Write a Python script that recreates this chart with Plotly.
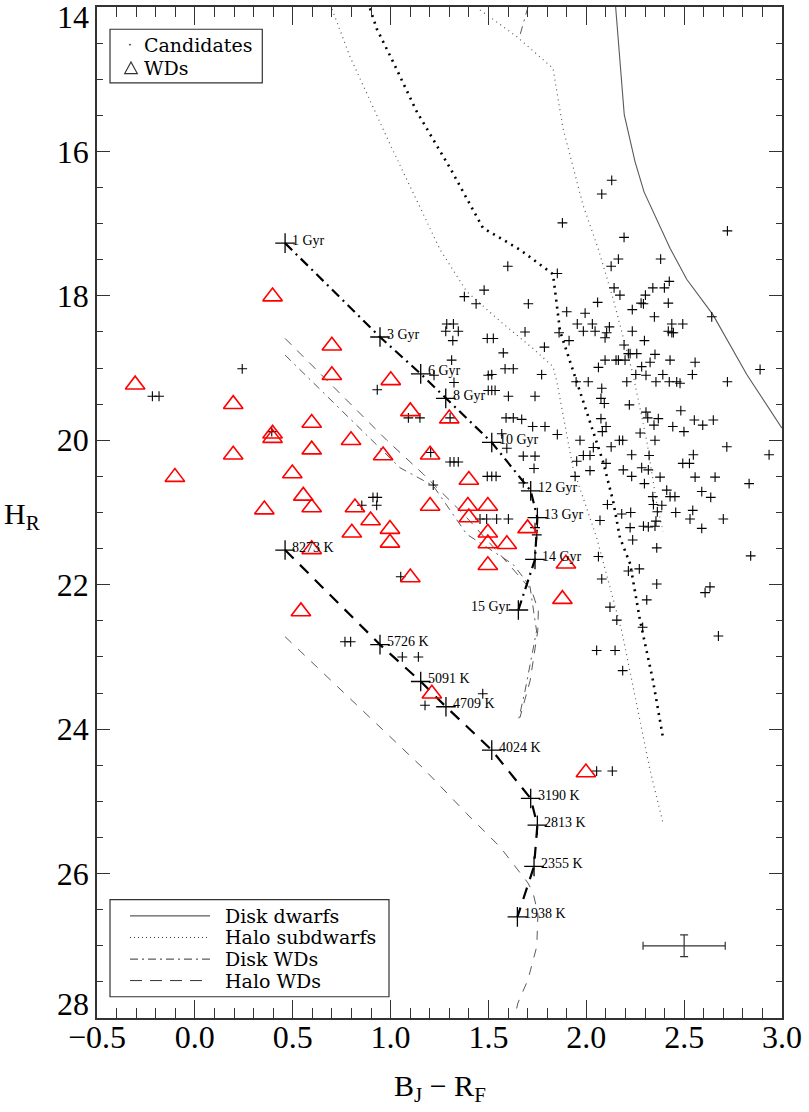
import plotly.graph_objects as go

# ---------------- data ----------------
cand_x = [1.599, 1.852, 1.478, 1.377, 1.437, 1.704, 1.900, 1.287, 1.321, 1.282, 1.346, 1.318, 1.494, 1.525,
          1.687, 1.861, 1.912, 1.786, 1.576, 1.312, 1.585, 1.627, 1.772, 1.499, 1.517, 1.222, 1.324, 1.499,
          1.517, 1.534, 1.602, 1.738, 1.091, 1.150, 1.304, 1.590, 1.627, 1.670, 1.726, 1.789, 1.852, 1.568,
          1.594, 1.678, 1.738, 1.733, 1.304, 1.324, 1.346, 1.205, 1.494, 1.517, 1.539, 1.678, 1.218, 0.853,
          0.910, 0.932, 0.929, 1.457, 1.491, 1.542, 1.602, 1.747, 1.738, 1.951, 1.968, 2.019, 1.985, 2.019,
          1.943, 2.036, 2.108, 2.070, 2.181, 2.227, 2.224, 2.292, 2.317, 2.351, 2.193, 2.215, 2.224, 2.258,
          2.351, 2.096, 2.152, 2.164, 2.198, 2.062, 2.283, 2.326, 2.428, 2.556, 2.888, 2.253, 2.305, 2.391,
          2.542, 1.948, 2.010, 2.207, 2.356, 2.424, 2.462, 2.479, 2.721, 2.079, 2.075, 2.092, 2.220, 2.483,
          2.305, 2.314, 2.368, 2.552, 2.595, 2.649, 2.075, 2.346, 2.442, 2.499, 2.101, 2.082, 2.275, 2.169,
          2.186, 2.351, 2.127, 2.718, 2.934, 2.232, 2.321, 2.547, 2.101, 2.493, 2.527, 2.189, 2.283, 2.317,
          2.232, 2.377, 2.556, 2.658, 2.832, 2.297, 2.411, 2.590, 2.340, 2.428, 2.453, 2.636, 2.343, 2.386,
          2.544, 2.363, 2.457, 2.530, 2.700, 2.356, 2.590, 2.130, 2.079, 1.878, 2.721, 2.193, 2.164, 2.380,
          2.127, 2.424, 2.142, 2.340, 2.399, 2.172, 2.302, 2.058, 2.280, 2.292, 2.419, 2.235, 1.994, 2.348,
          2.641, 1.954, 2.031, 2.118, 2.437, 2.493, 1.985, 2.045, 2.104, 2.235, 2.419, 2.437, 2.445, 2.096,
          2.297, 2.237, 2.360, 2.840, 2.062, 2.215, 2.271, 2.079, 2.360, 2.632, 2.607, 2.309, 2.121, 2.156,
          2.288, 2.675, 2.053, 2.147, 2.186, 1.471, 1.176, 0.242, -0.217, -0.183, 0.393, 0.932, 0.767, 0.796,
          1.060, 1.142, 1.052, 2.053, 2.133]
cand_y = [17.59, 17.69, 17.92, 18.01, 18.11, 18.11, 18.22, 18.39, 18.39, 18.49, 18.49, 18.62, 18.59, 18.59,
          18.50, 18.51, 18.62, 18.71, 18.79, 18.89, 19.01, 19.01, 19.09, 19.10, 19.09, 19.10, 19.20, 19.31,
          19.31, 19.31, 19.39, 19.39, 19.69, 19.69, 19.69, 19.69, 19.69, 19.71, 19.81, 19.81, 19.92, 19.91,
          20.11, 20.22, 20.22, 20.39, 20.30, 20.30, 20.30, 20.17, 20.50, 20.50, 20.50, 20.59, 20.62, 20.90,
          20.79, 20.79, 20.90, 21.09, 21.09, 21.09, 21.09, 21.31, 21.21, 20.29, 20.00, 20.42, 20.21, 20.21,
          20.50, 20.10, 20.89, 21.11, 21.02, 21.00, 21.21, 21.19, 21.20, 21.19, 18.68, 18.80, 18.80, 18.80,
          18.81, 18.89, 18.89, 18.89, 18.89, 18.99, 18.98, 18.92, 18.89, 18.92, 19.02, 19.09, 19.10, 19.09,
          19.09, 19.19, 19.19, 19.19, 19.19, 19.19, 19.19, 19.21, 19.19, 19.28, 19.42, 19.49, 19.51, 19.59,
          19.61, 19.69, 19.70, 19.72, 19.79, 19.72, 19.70, 19.79, 19.81, 19.88, 19.81, 19.88, 19.90, 20.00,
          20.00, 20.00, 20.09, 20.09, 20.20, 20.20, 20.21, 20.20, 20.32, 20.32, 20.32, 20.41, 20.38, 20.41,
          20.50, 20.51, 20.51, 20.51, 20.60, 20.60, 20.69, 20.71, 20.78, 20.78, 20.78, 20.79, 20.89, 20.90,
          20.97, 20.99, 21.00, 21.09, 21.09, 21.12, 21.22, 16.40, 16.59, 16.99, 17.10, 17.19, 17.49, 17.49,
          17.59, 17.80, 17.89, 17.89, 17.89, 17.99, 17.99, 18.09, 18.10, 18.11, 18.10, 18.19, 18.24, 18.29,
          18.29, 18.39, 18.39, 18.43, 18.39, 18.39, 18.49, 18.49, 18.51, 18.49, 18.49, 18.51, 18.51, 18.58,
          18.62, 21.38, 21.49, 21.60, 21.61, 21.81, 21.78, 21.92, 21.99, 22.03, 22.11, 22.21, 22.31, 22.49,
          22.59, 22.71, 22.91, 22.91, 23.19, 23.51, 23.67, 19.01, 19.39, 19.39, 19.88, 19.30, 22.79, 22.79,
          23.00, 23.00, 21.89, 24.58, 24.58]

wd_x = [0.397, 0.700, 0.700, -0.305, 0.196, 0.597, 0.397, 0.397, 0.798, 0.597, 0.196, 0.962, -0.102,
        0.498, 0.554, 0.597, 0.355, 0.818, 0.898, 0.802, 1.001, 1.101, 1.300, 1.202, 1.400, 1.202, 1.395,
        1.497, 1.400, 1.700, 0.997, 1.497, 1.497, 1.594, 1.497, 1.896, 1.101, 1.878, 1.211, 0.597, 0.542,
        0.997, 1.998]
wd_y = [18.01, 18.69, 19.10, 19.23, 19.50, 19.76, 19.91, 19.97, 20.00, 20.13, 20.20, 20.21, 20.51,
        20.46, 20.77, 20.93, 20.96, 20.93, 21.11, 21.28, 19.17, 19.60, 19.70, 20.20, 20.55, 20.91, 20.91,
        20.91, 21.07, 21.22, 21.23, 21.28, 21.43, 21.44, 21.73, 21.71, 21.90, 22.20, 23.51, 21.51, 22.37,
        21.42, 24.60]

# Disk dwarfs sequence
dd_x = [2.150, 2.194, 2.249, 2.295, 2.428, 2.513, 2.647, 2.820, 2.999]
dd_y = [14.00, 15.49, 16.14, 16.56, 17.34, 17.77, 18.26, 19.09, 19.83]

# Halo subdwarf sequences
hsa_x = [0.701, 0.793, 0.992, 1.253, 1.389, 1.559, 1.728, 1.830, 1.849, 1.932, 2.053, 2.181, 2.326, 2.392]
hsa_y = [14.03, 14.69, 15.87, 17.36, 17.94, 18.35, 18.73, 18.98, 19.18, 20.38, 21.35, 22.64, 24.57, 25.30]
hsb_x = [1.457, 1.645, 1.830, 1.881, 1.983, 2.060, 2.137, 2.239, 2.309, 2.360, 2.392]
hsb_y = [14.04, 14.41, 14.85, 15.68, 16.74, 17.34, 18.04, 19.09, 20.01, 20.88, 21.26]
hsc_x = [0.895, 0.929, 1.013, 1.134, 1.304, 1.472, 1.661, 1.830, 1.866, 1.951, 2.019, 2.085, 2.137,
         2.172, 2.224, 2.275, 2.341, 2.392]
hsc_y = [14.02, 14.30, 14.76, 15.45, 16.23, 17.06, 17.36, 17.70, 18.49, 19.18, 19.74, 20.29, 20.84,
         21.35, 21.71, 22.50, 23.33, 24.12]

# Disk WD cooling track (ages)
dwd_x = [0.461, 0.946, 1.154, 1.282, 1.517, 1.716, 1.750, 1.738, 1.653]
dwd_y = [17.27, 18.57, 19.08, 19.42, 20.03, 20.70, 21.07, 21.65, 22.35]
dwd_labels = ["1 Gyr", "3 Gyr", "6 Gyr", "8 Gyr", "10 Gyr", "12 Gyr", "13 Gyr", "14 Gyr", "15 Gyr"]

# Halo WD cooling track (temperatures)
hwd_x = [0.461, 0.946, 1.154, 1.283, 1.517, 1.716, 1.750, 1.733, 1.648]
hwd_y = [21.52, 22.83, 23.34, 23.69, 24.29, 24.96, 25.33, 25.90, 26.60]
hwd_labels = ["8273 K", "5726 K", "5091 K", "4709 K", "4024 K", "3190 K", "2813 K", "2355 K", "1938 K"]

# Other WD model curves (thin)
wd1_x = [0.461, 0.981, 1.168, 1.372, 1.559, 1.721, 1.755, 1.752, 1.713, 1.661]
wd1_y = [18.59, 20.00, 20.47, 21.02, 21.58, 22.08, 22.36, 22.64, 23.33, 23.84]
wd2_x = [0.461, 1.048, 1.218, 1.389, 1.627, 1.712, 1.746, 1.687, 1.653]
wd2_y = [18.82, 20.38, 20.63, 21.30, 21.72, 22.02, 22.64, 23.47, 23.88]
wd3_x = [0.461, 1.166, 1.389, 1.559, 1.702, 1.728, 1.753, 1.747, 1.702, 1.651, 1.636]
wd3_y = [22.72, 24.54, 25.17, 25.63, 26.13, 26.27, 26.55, 27.01, 27.47, 27.79, 27.96]
wd4_x = [1.702, 1.656]
wd4_y = [14.00, 14.44]

# Typical error bar
err_x, err_y = [2.50], [27.00]
err_dx, err_dy = [0.21], [0.15]

# axis ticks
y_tickvals = [14, 16, 18, 20, 22, 24, 26, 28]
y_ticktext = ["", "16", "18", "20", "22", "24", "26", ""]
y_end_labels = [("14", 14), ("28", 28)]

# ---------------- figure ----------------
W, H = 809, 1112
ML, MR, MT, MB = 97, 27, 5, 94
PW, PH = W - ML - MR, H - MT - MB

def px(xp):
    return (xp - ML) / PW

def py(yp):
    return (H - MB - yp) / PH

GRAY = "#5a5a5a"
fig = go.Figure()

def line(x, y, color, width, dash):
    fig.add_trace(go.Scatter(x=x, y=y, mode="lines", line=dict(color=color, width=width, dash=dash),
                             hoverinfo="skip"))

line(dd_x, dd_y, GRAY, 1.1, "solid")
line(hsa_x, hsa_y, GRAY, 1.2, "1px,4px")
line(hsb_x, hsb_y, GRAY, 1.2, "1px,4px")
line(hsc_x, hsc_y, "black", 2.6, "2px,5px")
line(wd1_x, wd1_y, GRAY, 1.0, "9px,8px")
line(wd2_x, wd2_y, GRAY, 1.0, "8px,5px,2px,5px")
line(wd3_x, wd3_y, GRAY, 1.0, "9px,9px")
line(wd4_x, wd4_y, GRAY, 1.0, "8px,5px,2px,5px")
line(dwd_x, dwd_y, "black", 2.2, "10px,5px,2px,5px")
line(hwd_x, hwd_y, "black", 2.2, "12px,9px")

fig.add_trace(go.Scatter(x=dwd_x + hwd_x, y=dwd_y + hwd_y, mode="markers",
                         marker=dict(symbol="cross-thin", size=14, line=dict(color="black", width=1.3)),
                         hoverinfo="skip"))

fig.add_trace(go.Scatter(x=cand_x, y=cand_y, mode="markers",
                         marker=dict(symbol="cross-thin", size=7, line=dict(color="black", width=1.1)),
                         hoverinfo="skip"))

fig.add_trace(go.Scatter(x=wd_x, y=wd_y, mode="markers",
                         marker=dict(symbol="triangle-up-open", size=17, color="red",
                                     line=dict(color="red", width=1.6)),
                         hoverinfo="skip"))

fig.add_trace(go.Scatter(x=err_x, y=err_y, mode="markers", marker=dict(size=1, color="rgba(0,0,0,0)"),
                         error_x=dict(type="data", array=err_dx, width=4, thickness=1.2, color="#333"),
                         error_y=dict(type="data", array=err_dy, width=4, thickness=1.2, color="#333"),
                         hoverinfo="skip"))

LBL = dict(family="Liberation Serif", size=14, color="black")
annotations = []
for x, y, t in zip(dwd_x, dwd_y, dwd_labels):
    if t == "15 Gyr":
        annotations.append(dict(x=x, y=y, text=t, showarrow=False, xanchor="right", yanchor="middle",
                                xshift=-5, yshift=3, font=LBL))
    else:
        annotations.append(dict(x=x, y=y, text=t, showarrow=False, xanchor="left", yanchor="middle",
                                xshift=5, yshift=3, font=LBL))
for x, y, t in zip(hwd_x, hwd_y, hwd_labels):
    annotations.append(dict(x=x, y=y, text=t, showarrow=False, xanchor="left", yanchor="middle",
                            xshift=5, yshift=3, font=LBL))

LEG = dict(family="DejaVu Serif", size=19, color="black")
# legend 1
annotations.append(dict(xref="paper", yref="paper", x=px(142), y=py(43), text="Candidates", showarrow=False,
                        xanchor="left", yanchor="middle", font=LEG))
annotations.append(dict(xref="paper", yref="paper", x=px(142), y=py(66), text="WDs", showarrow=False,
                        xanchor="left", yanchor="middle", font=LEG))
# legend 2
leg2_rows = [("Disk dwarfs", "solid", 915.7), ("Halo subdwarfs", "1px,3px", 937.3),
             ("Disk WDs", "8px,4px,2px,4px", 959.0), ("Halo WDs", "12px,8px", 980.5)]
shapes = []
for txt, dash, yy in leg2_rows:
    annotations.append(dict(xref="paper", yref="paper", x=px(223), y=py(yy), text=txt, showarrow=False,
                            xanchor="left", yanchor="middle", font=LEG))
    shapes.append(dict(type="line", xref="paper", yref="paper", x0=px(130), x1=px(210), y0=py(yy), y1=py(yy),
                       line=dict(color="#333", width=1, dash=dash)))

shapes.append(dict(type="rect", xref="paper", yref="paper", x0=px(110), x1=px(262.3), y0=py(27.3), y1=py(81),
                   line=dict(color="#333", width=1.2), fillcolor="white", layer="above"))
shapes.append(dict(type="rect", xref="paper", yref="paper", x0=px(110), x1=px(389), y0=py(899.3), y1=py(996.7),
                   line=dict(color="#333", width=1.2), fillcolor="rgba(0,0,0,0)", layer="above"))
shapes.append(dict(type="circle", xref="paper", yref="paper", x0=px(129.3), x1=px(130.7), y0=py(42), y1=py(43.4),
                   line=dict(color="#333", width=0.5), fillcolor="#333"))
tri = "M {} {} L {} {} L {} {} Z".format(px(124.7), py(71.7), px(137.3), py(71.7), px(131), py(60))
shapes.append(dict(type="path", xref="paper", yref="paper", path=tri, line=dict(color="#333", width=1.2)))

TICKF = dict(family="Liberation Serif", size=32, color="black")
# end labels of the y axis (kept inside the plot height, as in the original)
annotations.append(dict(xref="paper", yref="paper", x=px(91), y=py(15), text=y_end_labels[0][0], showarrow=False,
                        xanchor="right", yanchor="middle", font=TICKF))
annotations.append(dict(xref="paper", yref="paper", x=px(91), y=py(1004), text=y_end_labels[1][0],
                        showarrow=False, xanchor="right", yanchor="middle", font=TICKF))

# axis titles
TITLE = dict(family="Liberation Serif", size=30, color="black")
annotations.append(dict(xref="paper", yref="paper", x=px(22), y=py(515), text="H<sub>R</sub>", showarrow=False,
                        xanchor="center", yanchor="middle", font=TITLE))
annotations.append(dict(xref="paper", yref="paper", x=px(440), y=py(1088), text="B<sub>J</sub> \u2212 R<sub>F</sub>",
                        showarrow=False, xanchor="center", yanchor="middle", font=TITLE))

fig.update_layout(width=W, height=H, margin=dict(l=ML, r=MR, t=MT, b=MB), plot_bgcolor="white",
                  paper_bgcolor="white", showlegend=False, annotations=annotations, shapes=shapes)

fig.update_xaxes(range=[-0.5, 3.0], tick0=-0.5, dtick=0.5, tickformat=".1f", ticks="inside", ticklen=18,
                 tickwidth=1.2, tickcolor="#333",
                 minor=dict(dtick=0.1, ticks="inside", ticklen=10, tickwidth=1, tickcolor="#333"),
                 showline=True, linecolor="#333", linewidth=1.6, mirror="ticks", showgrid=False, zeroline=False,
                 tickfont=TICKF, ticklabelstandoff=-10)
fig.update_yaxes(range=[28, 14], tickmode="array", tickvals=y_tickvals, ticktext=y_ticktext,
                 ticks="inside", ticklen=13, tickwidth=1.2, tickcolor="#333",
                 minor=dict(tickmode="linear", tick0=14, dtick=0.5, ticks="inside", ticklen=6, tickwidth=1,
                            tickcolor="#333"),
                 showline=True, linecolor="#333", linewidth=1.6, mirror="ticks", showgrid=False, zeroline=False,
                 tickfont=TICKF)

fig.write_html("out.html")
